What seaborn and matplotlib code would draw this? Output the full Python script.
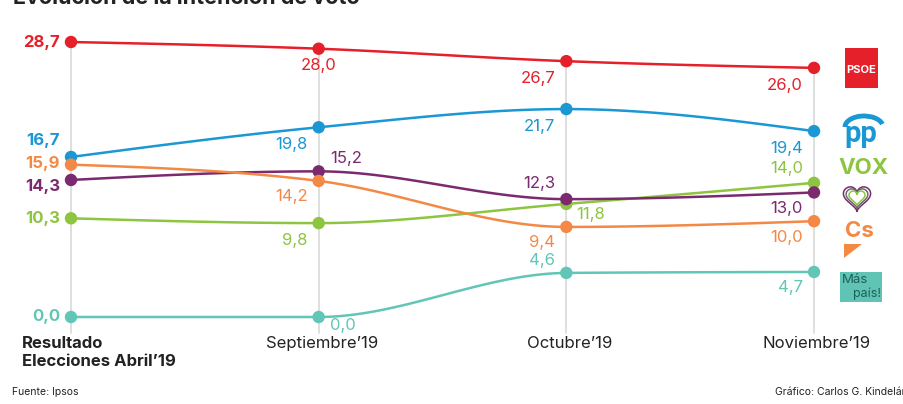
import numpy as np
import pandas as pd
import matplotlib
matplotlib.use("Agg")
import matplotlib.pyplot as plt
import seaborn as sns
from matplotlib.patches import Rectangle, Polygon, Arc
from matplotlib.lines import Line2D

# ---------------- data ----------------
categories = ["Resultado\nElecciones Abril\u201919", "Septiembre\u201919", "Octubre\u201919", "Noviembre\u201919"]
parties = ["PSOE", "PP", "Vox", "UP", "Cs", "MP"]
psoe = [28.7, 28.0, 26.7, 26.0]
pp = [16.7, 19.8, 21.7, 19.4]
vox = [10.3, 9.8, 11.8, 14.0]
up = [14.3, 15.2, 12.3, 13.0]
cs = [15.9, 14.2, 9.4, 10.0]
mp = [0.0, 0.0, 4.6, 4.7]
values = {"PSOE": psoe, "PP": pp, "Vox": vox, "UP": up, "Cs": cs, "MP": mp}
colors = {"PSOE": "#e5202a", "PP": "#1b97d4", "Vox": "#8dc540",
          "UP": "#7c2a6f", "Cs": "#f48946", "MP": "#62c6b6"}

# label offsets (points) per party for columns 1..3: (dx, dy, ha, va)
label_pos = {
    "PSOE": [None, (0, -7, "center", "top"), (-8, -7, "right", "top"), (-8, -7, "right", "top")],
    "PP":   [None, (-8, -7, "right", "top"), (-8, -7, "right", "top"), (-8, -7, "right", "top")],
    "Vox":  [None, (-8, -7, "right", "top"), (7, -2, "left", "top"), (-8, 5, "right", "bottom")],
    "UP":   [None, (8, 4, "left", "bottom"), (-8, 6, "right", "bottom"), (-8, -6, "right", "top")],
    "Cs":   [None, (-8, -6, "right", "top"), (-8, -6, "right", "top"), (-8, -6, "right", "top")],
    "MP":   [None, (8, -1, "left", "top"), (-8, 3.5, "right", "bottom"), (-8, -6, "right", "top")],
}
first_dy = {"PSOE": 0, "PP": 12, "Cs": 1, "UP": -5, "Vox": 0, "MP": 0}

# ---------------- helpers ----------------
def monotone_curve(x, y, n=40):
    x = np.asarray(x, float); y = np.asarray(y, float)
    h = np.diff(x); s = np.diff(y) / h
    m = np.zeros_like(y)
    for i in range(1, len(y) - 1):
        p = (s[i - 1] * h[i] + s[i] * h[i - 1]) / (h[i - 1] + h[i])
        m[i] = (np.sign(s[i - 1]) + np.sign(s[i])) * min(abs(s[i - 1]), abs(s[i]), 0.5 * abs(p))
    m[0] = (3 * s[0] - m[1]) / 2
    m[-1] = (3 * s[-1] - m[-2]) / 2
    xs, ys = [], []
    for i in range(len(x) - 1):
        t = np.linspace(0, 1, n)
        h00 = 2 * t**3 - 3 * t**2 + 1; h10 = t**3 - 2 * t**2 + t
        h01 = -2 * t**3 + 3 * t**2; h11 = t**3 - t**2
        xs.append(x[i] + t * h[i])
        ys.append(h00 * y[i] + h10 * h[i] * m[i] + h01 * y[i + 1] + h11 * h[i] * m[i + 1])
    return np.concatenate(xs), np.concatenate(ys)

def fmt(v):
    return f"{v:.1f}".replace(".", ",")

# ---------------- figure ----------------
sns.set_theme(style="white")
plt.rcParams["font.family"] = ["Inter", "DejaVu Sans"]
W, H = 904, 404
fig = plt.figure(figsize=(W / 100, H / 100), dpi=100)
ax = fig.add_axes([71 / W, (H - 317) / H, (814 - 71) / W, (317 - 42) / H])
ax.set_xlim(0, 3)
ax.set_ylim(0, 28.7)
ax.axis("off")

xpos = np.arange(len(categories))
# vertical grid lines
for i in xpos:
    top = max(values[p][i] for p in parties)
    ax.plot([i, i], [-1.7, top], color="#dcdcdc", lw=1.3, zorder=0, clip_on=False)

for p in parties:
    cx, cy = monotone_curve(xpos, values[p])
    sns.lineplot(x=cx, y=cy, sort=False, ax=ax, color=colors[p], lw=1.8,
                 estimator=None, zorder=2, clip_on=False)
    df = pd.DataFrame({"x": xpos, "y": values[p]})
    sns.scatterplot(data=df, x="x", y="y", ax=ax, color=colors[p], s=80,
                    edgecolor="none", zorder=3, clip_on=False)

# value labels
for p in parties:
    vals = values[p]
    ax.annotate(fmt(vals[0]), (0, vals[0]), xytext=(-8, first_dy[p]), textcoords="offset points",
                ha="right", va="center", fontsize=12, fontweight="bold", color=colors[p])
    for i in range(1, 4):
        dx, dy, ha, va = label_pos[p][i]
        ax.annotate(fmt(vals[i]), (i, vals[i]), xytext=(dx, dy), textcoords="offset points",
                    ha=ha, va=va, fontsize=12, color=colors[p])

ax.set_xlabel(""); ax.set_ylabel("")

# category labels
fig.text(22 / W, 1 - 336 / H, categories[0], ha="left", va="top", fontsize=12,
         fontweight="bold", color="#222222", linespacing=1.25)
for i in range(1, 4):
    xf = (71 + i * (814 - 71) / 3 + 3) / W
    fig.text(xf, 1 - 336 / H, categories[i], ha="center", va="top", fontsize=12, color="#222222")

# title (cut off at top)
fig.text(13 / W, 1 - 4 / H, "Evolución de la intención de voto", ha="left", va="baseline",
         fontsize=15.5, fontweight="bold", color="#222222")

# footer
fig.text(12 / W, 1 - 392 / H, "Fuente: Ipsos", ha="left", va="center", fontsize=7.5, color="#222222")
fig.text(908 / W, 1 - 392 / H, "Gráfico: Carlos G. Kindelán", ha="right", va="center",
         fontsize=7.5, color="#222222")

# ---------------- logos ----------------
def px(x, y):
    return (x / W, 1 - y / H)

# PSOE
fig.patches.append(Rectangle(px(845, 88), 33 / W, 40 / H, transform=fig.transFigure,
                             facecolor="#e5202a", edgecolor="none"))
fig.text(*px(861.5, 70), "PSOE", ha="center", va="center", fontsize=8, fontweight="bold",
         color="white")
# PP
fig.text(*px(861, 134), "pp", ha="center", va="center", fontsize=21, fontweight="bold",
         color="#1b97d4", family=["Roboto", "DejaVu Sans"])
fig.patches.append(Arc(px(864, 127), 38 / W, 22 / H, theta1=20, theta2=180,
                       transform=fig.transFigure, color="#1b97d4", lw=3.5))
# VOX
fig.text(*px(864, 168), "VOX", ha="center", va="center", fontsize=16, fontweight="bold",
         color="#8dc540")
# Podemos heart (layered outlines drawn as curves)
tt = np.linspace(0, 2 * np.pi, 200)
hx = 16 * np.sin(tt) ** 3
hy = 13 * np.cos(tt) - 5 * np.cos(2 * tt) - 2 * np.cos(3 * tt) - np.cos(4 * tt)
for k, (sc, col) in enumerate([(0.85, "#7c2a6f"), (0.68, "#6b6b6b"), (0.5, "#8dc540")]):
    X = (857 + hx * sc) / W
    Y = 1 - (198 - hy * sc - 1) / H
    fig.lines.append(Line2D(X, Y, transform=fig.transFigure, color=col, lw=1.1))
# Cs
fig.text(*px(859, 231), "Cs", ha="center", va="center", fontsize=16, fontweight="bold",
         color="#f48946")
fig.patches.append(Polygon([px(844, 244), px(862, 244), px(844, 258)], closed=True,
                           transform=fig.transFigure, facecolor="#f48946", edgecolor="none"))
# Más país
fig.patches.append(Rectangle(px(840, 302), 42 / W, 30 / H, transform=fig.transFigure,
                             facecolor="#5fc4b4", edgecolor="none"))
fig.text(*px(842, 280), "Más", ha="left", va="center", fontsize=9.5, color="#1f5e58")
fig.text(*px(881, 294), "país!", ha="right", va="center", fontsize=9, color="#1f5e58")

fig.savefig("out.png", dpi=100)
